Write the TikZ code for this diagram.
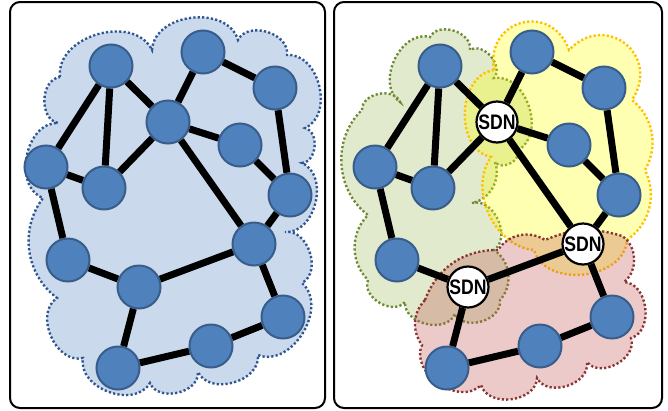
\documentclass[tikz,border=0pt]{standalone}
\usepackage{fontspec}
\newfontfamily\sdnfont[FakeStretch=0.84]{Liberation Sans}
\definecolor{hostblue}{HTML}{4F81BD}
\definecolor{hostedge}{HTML}{385D8A}
\definecolor{cloudedge}{HTML}{2F5690}
\definecolor{zonegreen}{HTML}{9BBB59}
\definecolor{edgegreen}{HTML}{6F8A36}
\definecolor{zoneyellow}{HTML}{FFFF00}
\definecolor{edgeyellow}{HTML}{FFC000}
\definecolor{zonered}{HTML}{C0504D}
\definecolor{edgered}{HTML}{8C3432}
\tikzset{
	host/.style={circle,fill=hostblue,draw=hostedge,line width=2pt,minimum size=43pt,inner sep=0pt},
	sdn/.style={circle,fill=white,draw=black,line width=2.2pt,minimum size=41pt,inner sep=0pt,
		font=\sdnfont\bfseries\fontsize{21}{21}\selectfont},
	link/.style={line width=7pt},
	panel/.style={line width=2pt,rounded corners=10pt},
	zone/.style={fill opacity=0.3,line width=2.4pt,dash pattern=on 2.2pt off 2.2pt},
	bump/.style={bend left=80,looseness=1.1},
	puff/.style={bend left=85,looseness=1.7}
}

\begin{document}
\begin{tikzpicture}[x=1pt,y=-1pt]
\useasboundingbox (0,0) rectangle (668,410);
%frames
\draw[panel] (10,2) rectangle (325,408);
\draw[panel] (334,2) rectangle (662,408);

%clouds
\draw[zone,fill=hostblue,draw=cloudedge] (60,77) to[bump] (152,50) to[bump] (238,40) to[bump] (287,55)
	to[bump] (305,128) to[bump] (302,163) to[bump] (285,232) to[bump] (302,283) to[bump] (258,355)
	to[bump] (198,372) to[bump] (150,383) to[bump] (83,358) to[bump] (57,298) to[bend left=45] (43,198)
	to[bump] (58,123) to[bump] (60,77);
\draw[zone,fill=zonegreen,draw=edgegreen] (362,110) to[bump] (400,102) to[bump] (430,37) to[bump] (470,50)
	to[bump] (494,78) to[bump] (518,150) to[bump] (495,162) to[bend left=50] (472,203) to[bump] (494,250)
	to[bend left=50] (500,300) to[bump] (455,314) to[bump] (405,302) to[bump] (368,280)
	to[bend left=45] (368,215) to[bend left=50] (362,110);
\draw[zone,fill=zoneyellow,draw=edgeyellow] (494,70) to[puff] (569,50) to[puff] (632,100) to[bend left=40] (645,170)
	to[bend left=40] (627,240) to[bump] (534,250) to[bend left=60] (491,157) to[bump] (494,70);
\draw[zone,fill=zonered,draw=edgered] (425,300) to[bend left=35] (498,250) to[bend left=45] (545,240)
	to[bend left=20] (622,236) to[bend left=55] (624,282) to[bump] (631,338) to[bump] (587,362)
	to[bump] (537,378) to[bump] (481,385) to[bump] (422,345) to[bend left=40] (425,300);

%hosts
\foreach \n/\x/\y in {1/111/66,2/203/52,3/275/88,4/168/122,5/240/145,6/46/167,7/104/188,
	8/290/195,9/68/260,10/254/244,11/139/287,12/283/317,13/211/346,14/118/368}
	\node[host] (a\n) at (\x,\y) {};
\foreach \n/\x/\y in {1/111/66,2/203/52,3/275/88,5/240/145,6/46/167,7/104/188,
	8/290/195,9/68/260,12/283/317,13/211/346,14/118/368}
	\node[host] (b\n) at (\x+329,\y) {};
\node[sdn] (b4) at (497,122) {SDN};
\node[sdn] (b10) at (583,244) {SDN};
\node[sdn] (b11) at (468,287) {SDN};

%links
\foreach \u/\v in {1/6,1/7,1/4,4/2,2/3,4/5,4/7,4/10,5/8,3/8,6/7,6/9,9/11,11/10,11/14,10/12,10/8,12/13,13/14}{
	\draw[link] (a\u) -- (a\v);
	\draw[link] (b\u) -- (b\v);
}
\end{tikzpicture}
\end{document}
